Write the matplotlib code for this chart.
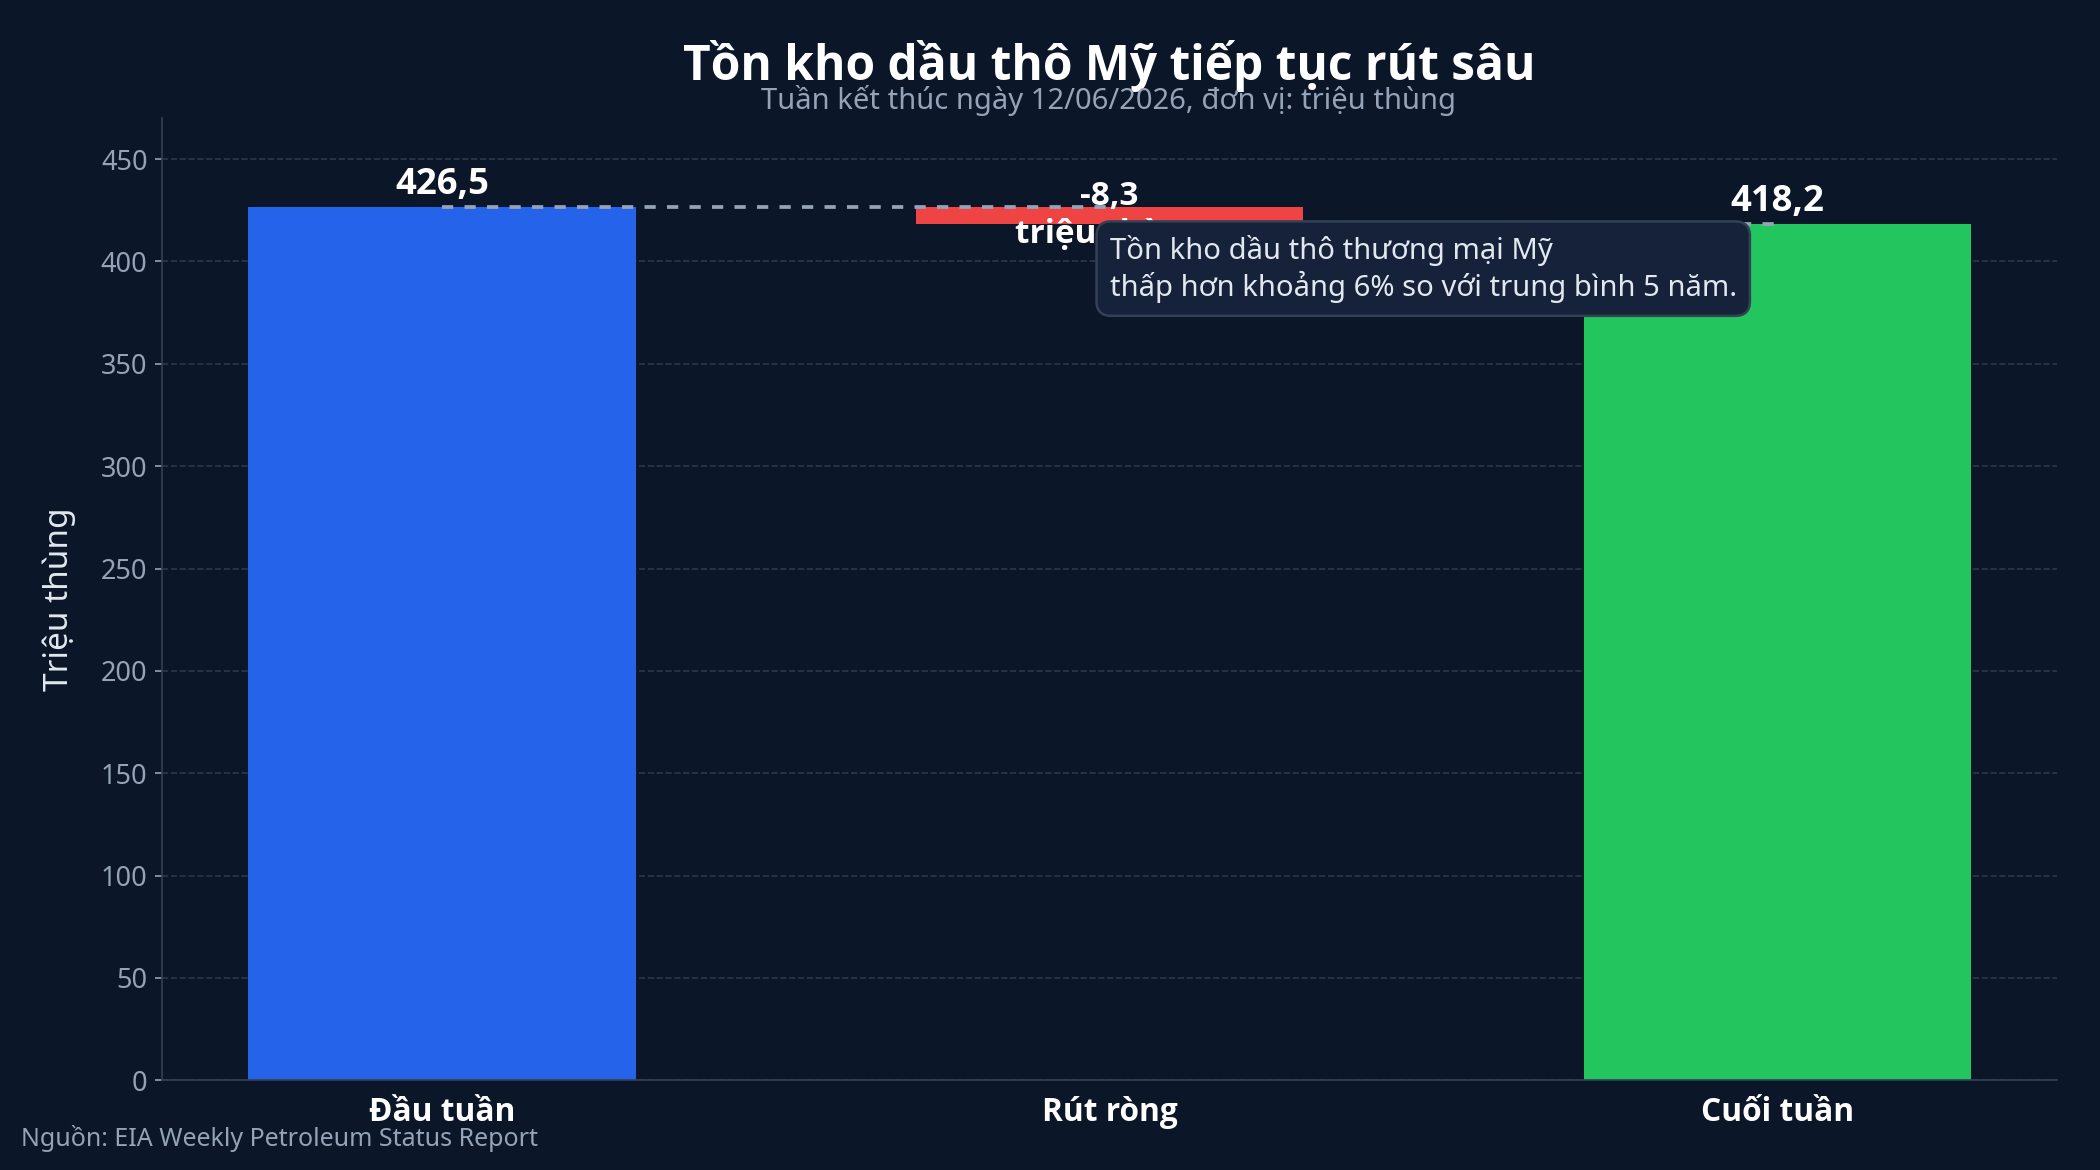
import matplotlib
matplotlib.use("Agg")
import matplotlib.pyplot as plt

plt.rcParams['font.family'] = ['Noto Sans', 'DejaVu Sans']
BOLD = ['Open Sans', 'Noto Sans', 'DejaVu Sans']

# data
categories = ['Đầu tuần', 'Rút ròng', 'Cuối tuần']
start_stock = 426.5
change = -8.3
end_stock = 418.2
value_labels = ['426,5', '-8,3\ntriệu thùng', '418,2']
note = 'Tồn kho dầu thô thương mại Mỹ\nthấp hơn khoảng 6% so với trung bình 5 năm.'

bg = '#0b1628'
fig, ax = plt.subplots(figsize=(14, 7.8), dpi=150)
fig.patch.set_facecolor(bg)
ax.set_facecolor(bg)
fig.subplots_adjust(left=0.0772, right=0.9796, bottom=0.0767, top=0.899)

x = [0, 1, 2]
w = 0.58
ax.bar(x[0], start_stock, width=w, color='#2563eb', zorder=2)
ax.bar(x[1], -change, bottom=end_stock, width=w, color='#ef4444', zorder=2)
ax.bar(x[2], end_stock, width=w, color='#22c55e', zorder=2)

# connectors
ax.plot([x[0], x[1]], [start_stock, start_stock], ls=(0, (3, 3)), color='#94a3b8', lw=1.8, zorder=3)
ax.plot([x[1], x[2]], [end_stock, end_stock], ls=(0, (3, 3)), color='#94a3b8', lw=1.8, zorder=3)

ax.annotate(value_labels[0], (x[0], start_stock), xytext=(0, 2), textcoords='offset points',
            ha='center', va='bottom', color='white', fontsize=17.5, fontweight='bold',
            family=BOLD, zorder=4)
ax.text(x[1], end_stock - change / 2, value_labels[1], ha='center', va='center',
        color='white', fontsize=16, fontweight='bold', family=BOLD, zorder=4)
ax.annotate(value_labels[2], (x[2], end_stock), xytext=(0, 2), textcoords='offset points',
            ha='center', va='bottom', color='white', fontsize=17.5, fontweight='bold',
            family=BOLD, zorder=4)

ax.text(1.0, 396.5, note, ha='left', va='center', color='#e2e8f0', fontsize=14, zorder=6,
        linespacing=1.2,
        bbox=dict(boxstyle='round,pad=0.45,rounding_size=0.5', fc='#16223a', ec='#334155', lw=1.2))

ax.set_ylim(0, 470)
ax.set_yticks(range(0, 451, 50))
ax.set_xticks(x)
ax.set_xticklabels(categories, fontsize=15.2, fontweight='bold', color='white', family=BOLD)
ax.tick_params(axis='y', colors='#94a3b8', labelsize=13)
ax.tick_params(axis='x', colors=bg, labelcolor='white', length=4)
ax.set_ylabel('Triệu thùng', color='#e2e8f0', fontsize=16, labelpad=12)

ax.grid(axis='y', ls='--', color='#334155', lw=0.8, alpha=0.8, zorder=0)
ax.set_axisbelow(True)
for s in ['top', 'right']:
    ax.spines[s].set_visible(False)
for s in ['left', 'bottom']:
    ax.spines[s].set_color('#334155')

cx = 0.528
fig.text(cx, 0.944, 'Tồn kho dầu thô Mỹ tiếp tục rút sâu', ha='center', va='center',
         color='white', fontsize=23, fontweight='bold', family=BOLD)
fig.text(cx, 0.914, 'Tuần kết thúc ngày 12/06/2026, đơn vị: triệu thùng', ha='center', va='center',
         color='#94a3b8', fontsize=14)
fig.text(0.01, 0.027, 'Nguồn: EIA Weekly Petroleum Status Report', ha='left', va='center',
         color='#94a3b8', fontsize=12)

fig.savefig('out.png', dpi=150, facecolor=bg)
